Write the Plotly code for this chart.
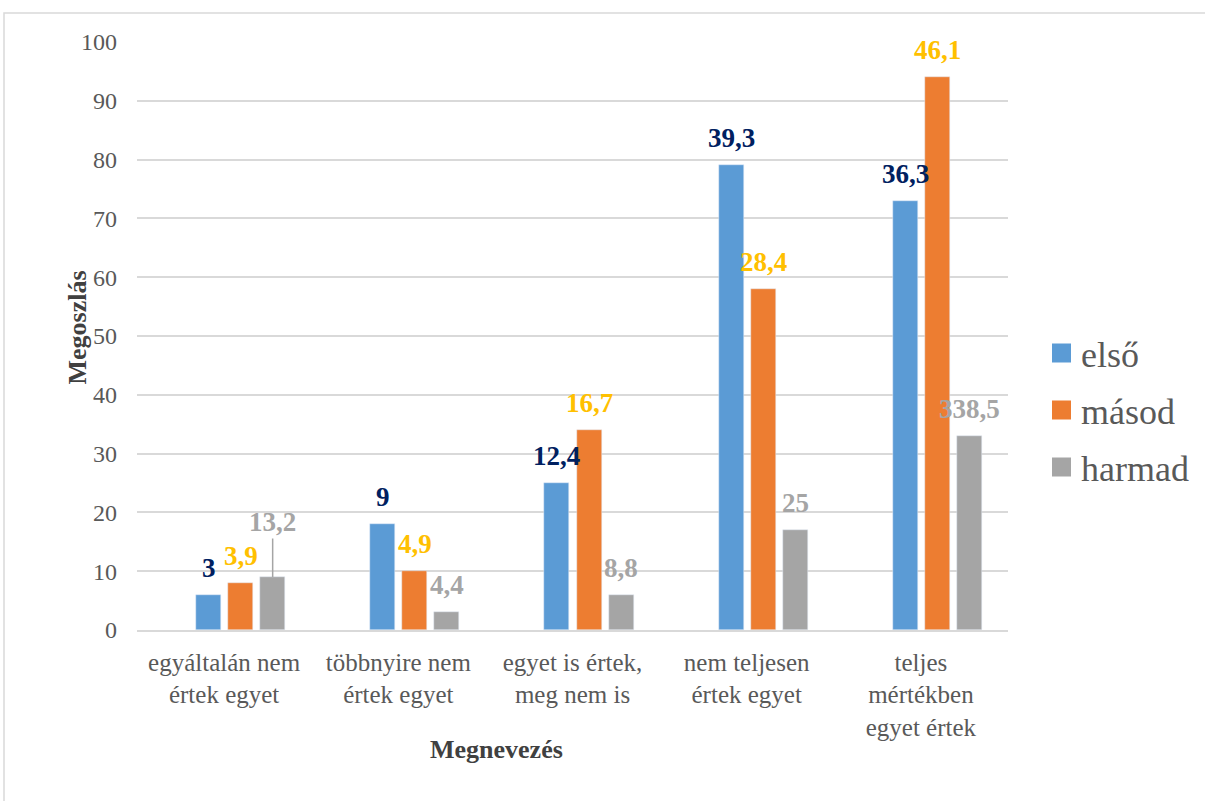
import plotly.graph_objects as go

# Survey categories (x axis)
categories = [
    "egyáltalán nem<br>értek egyet",
    "többnyire nem<br>értek egyet",
    "egyet is értek,<br>meg nem is",
    "nem teljesen<br>értek egyet",
    "teljes<br>mértékben<br>egyet értek",
]

# Bar heights per series
elso = [6, 18, 25, 79, 73]
masod = [8, 10, 34, 58, 94]
harmad = [9, 3, 6, 17, 33]

# Data label texts per series
elso_labels = ["3", "9", "12,4", "39,3", "36,3"]
masod_labels = ["3,9", "4,9", "16,7", "28,4", "46,1"]
harmad_labels = ["13,2", "4,4", "8,8", "25", "338,5"]

series_names = ["első", "másod", "harmad"]
bar_colors = ["#5B9BD5", "#ED7D31", "#A5A5A5"]
label_colors = ["#002060", "#FFC000", "#A5A5A5"]

FONT = "Times New Roman"
BAR_W = 0.1435
OFFSETS = [-0.161, 0.023, 0.207]

# plot area geometry in pixels (for placing paper-anchored items)
L, R, T, B = 137, 1008, 42, 630
PW, PH = R - L, B - T


def px(x):
    return (x - L) / PW


def py(y):
    return (B - y) / PH


xs = list(range(len(categories)))
values = [elso, masod, harmad]
labels = [elso_labels, masod_labels, harmad_labels]

fig = go.Figure()

for name, vals, color, off in zip(series_names, values, bar_colors, OFFSETS):
    fig.add_trace(go.Bar(
        x=xs, y=vals, name=name, marker_color=color,
        offset=off, width=BAR_W, showlegend=False,
    ))

annotations = []
for vals, labs, lcolor, off in zip(values, labels, label_colors, OFFSETS):
    for i, (v, t) in enumerate(zip(vals, labs)):
        xc = i + off + BAR_W / 2
        if t == "13,2":
            annotations.append(dict(
                x=xc, y=v, xref="x", yref="y", text=f"<b>{t}</b>",
                showarrow=True, arrowhead=0, arrowwidth=1.5,
                arrowcolor="#A5A5A5", ax=0, ay=-55, standoff=0,
                font=dict(family=FONT, size=27, color=lcolor),
            ))
        else:
            annotations.append(dict(
                x=xc, y=v, xref="x", yref="y", text=f"<b>{t}</b>",
                showarrow=False, yanchor="middle", yshift=27,
                font=dict(family=FONT, size=27, color=lcolor),
            ))

# axis titles
annotations.append(dict(
    x=px(496), y=py(766), xref="paper", yref="paper",
    text="<b>Megnevezés</b>", showarrow=False,
    font=dict(family=FONT, size=26, color="#404040"),
))
annotations.append(dict(
    x=px(60), y=py(328), xref="paper", yref="paper",
    text="<b>Megoszlás</b>", showarrow=False, textangle=-90,
    font=dict(family=FONT, size=26, color="#404040"),
))

shapes = [dict(
    type="rect", xref="paper", yref="paper",
    x0=px(4), x1=1.4, y0=-0.5, y1=py(13),
    line=dict(color="#D9D9D9", width=1.5), fillcolor="rgba(0,0,0,0)",
    layer="below",
)]

# legend: colour swatches with series names
legend_y = [353, 410, 467]
for name, color, yc in zip(series_names, bar_colors, legend_y):
    shapes.append(dict(
        type="rect", xref="paper", yref="paper",
        x0=px(1052), x1=px(1071), y0=py(yc + 9.5), y1=py(yc - 9.5),
        fillcolor=color, line=dict(width=0),
    ))
    annotations.append(dict(
        x=px(1079), y=py(yc + 2), xref="paper", yref="paper",
        xanchor="left", yanchor="middle", text=name, showarrow=False,
        font=dict(family=FONT, size=36, color="#595959"),
    ))

fig.update_layout(
    width=1205, height=801,
    margin=dict(l=L, r=1205 - R, t=T, b=801 - B),
    paper_bgcolor="white", plot_bgcolor="white",
    bargap=0, barmode="overlay", showlegend=False,
    annotations=annotations, shapes=shapes,
)

fig.update_xaxes(
    range=[-0.5, 4.5], tickvals=xs, ticktext=categories,
    showgrid=False, showline=True, linecolor="#D9D9D9", linewidth=1.5,
    ticks="", ticklabelstandoff=9,
    tickfont=dict(family=FONT, size=25, color="#595959"),
)
fig.update_yaxes(
    range=[0, 100], dtick=10, showgrid=True, gridcolor="#D9D9D9",
    gridwidth=1.5, zeroline=False, showline=False, ticks="",
    ticklabelstandoff=19,
    tickfont=dict(family=FONT, size=24, color="#595959"),
)

fig.write_html("out.html")
